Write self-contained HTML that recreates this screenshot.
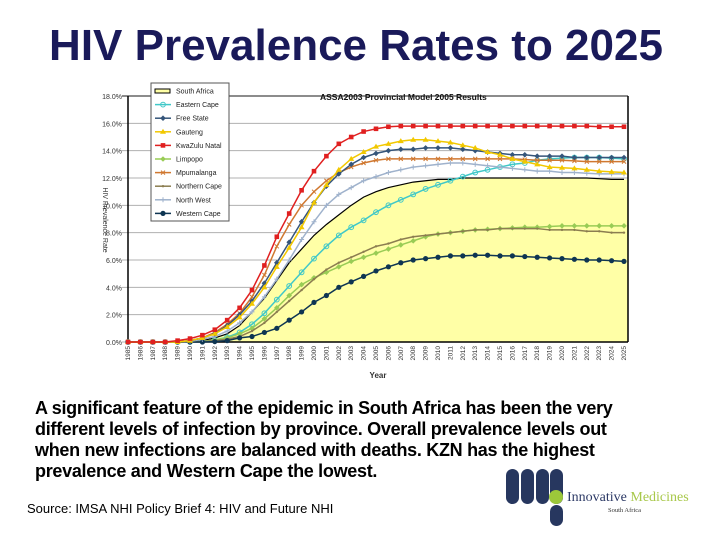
<!DOCTYPE html>
<html><head><meta charset="utf-8"><style>
body{margin:0;width:720px;height:540px;background:#fff;overflow:hidden;position:relative;font-family:"Liberation Sans",sans-serif}
#title{position:absolute;left:0;width:712px;top:21px;text-align:center;font-size:44px;font-weight:bold;color:#1a1a5a}
#desc{position:absolute;left:35px;top:398px;width:610px;font-size:18px;font-weight:bold;line-height:21px;color:#000;letter-spacing:-0.3px}
#src{position:absolute;left:27px;top:501px;font-size:13px;color:#000}
</style></head><body>
<div id="title">HIV Prevalence Rates to 2025</div>
<svg id="chart" width="720" height="540" style="position:absolute;left:0;top:0"></svg>
<div id="desc">A significant feature of the epidemic in South Africa has been the very different levels of infection by province. Overall prevalence levels out when new infections are balanced with deaths. KZN has the highest prevalence and Western Cape the lowest.</div>
<div id="src">Source: IMSA NHI Policy Brief 4: HIV and Future NHI</div>
<svg width="720" height="540" style="position:absolute;left:0;top:0">
<rect x="506" y="469" width="13" height="35" rx="6.5" fill="#27375f"/>
<rect x="521" y="469" width="13" height="35" rx="6.5" fill="#27375f"/>
<rect x="536" y="469" width="13" height="35" rx="6.5" fill="#27375f"/>
<rect x="550" y="469" width="13" height="35" rx="6.5" fill="#27375f"/>
<rect x="550" y="505" width="13" height="21" rx="6.5" fill="#27375f"/>
<circle cx="556" cy="497" r="7" fill="#9cc83a"/>
<text x="567" y="501" font-family="Liberation Serif,serif" font-size="14" fill="#2d3a66">Innovative <tspan fill="#a8c84a">Medicines</tspan></text>
<text x="608" y="512" font-family="Liberation Serif,serif" font-size="6.5" fill="#333">South Africa</text>
</svg>
<script>
const years=[];for(let y=1985;y<=2025;y++)years.push(y);
const yTicks=[0,2,4,6,8,10,12,14,16,18];
const seriesNames=["South Africa","Eastern Cape","Free State","Gauteng","KwaZulu Natal","Limpopo","Mpumalanga","Northern Cape","North West","Western Cape"];
const southAfrica=[0,0,0,0,0,0.03,0.1,0.3,0.6,1.2,2.2,3.2,4.5,5.8,6.8,7.8,8.6,9.3,10.0,10.6,11.0,11.3,11.5,11.7,11.8,11.9,11.9,12.0,12.0,12.0,12.0,12.0,12.0,12.0,12.0,12.0,12.0,12.0,11.95,11.9,11.9];
const easternCape=[0,0,0,0,0,0,0.05,0.15,0.35,0.7,1.3,2.1,3.1,4.1,5.1,6.1,7.0,7.8,8.4,8.9,9.5,10.0,10.4,10.8,11.2,11.5,11.8,12.1,12.4,12.6,12.8,13.0,13.1,13.3,13.4,13.45,13.5,13.5,13.5,13.45,13.4];
const freeState=[0,0,0,0,0,0.1,0.3,0.6,1.2,2.0,3.0,4.3,5.8,7.3,8.8,10.2,11.4,12.3,13.0,13.5,13.8,14.0,14.1,14.1,14.2,14.2,14.2,14.1,14.0,13.9,13.8,13.7,13.7,13.6,13.6,13.6,13.5,13.5,13.5,13.5,13.5];
const gauteng=[0,0,0,0,0,0.1,0.3,0.6,1.1,1.8,2.8,4.0,5.5,6.9,8.4,10.2,11.5,12.6,13.4,13.9,14.3,14.5,14.7,14.8,14.8,14.7,14.6,14.4,14.2,13.9,13.7,13.4,13.2,13.0,12.8,12.75,12.7,12.6,12.5,12.45,12.4];
const kwazuluNatal=[0,0,0,0,0.1,0.25,0.5,0.9,1.6,2.5,3.8,5.6,7.7,9.4,11.1,12.5,13.6,14.5,15.0,15.4,15.6,15.75,15.8,15.8,15.8,15.8,15.8,15.8,15.8,15.8,15.8,15.8,15.8,15.8,15.8,15.8,15.8,15.8,15.75,15.75,15.75];
const limpopo=[0,0,0,0,0,0,0.05,0.15,0.3,0.6,1.0,1.7,2.5,3.4,4.2,4.7,5.1,5.5,5.9,6.2,6.5,6.8,7.1,7.4,7.7,7.9,8.0,8.1,8.2,8.25,8.3,8.35,8.4,8.4,8.45,8.5,8.5,8.5,8.5,8.5,8.5];
const mpumalanga=[0,0,0,0,0,0.1,0.3,0.7,1.3,2.1,3.3,4.9,7.0,8.6,10.0,11.0,11.8,12.4,12.8,13.1,13.3,13.4,13.4,13.4,13.4,13.4,13.4,13.4,13.4,13.4,13.4,13.4,13.35,13.3,13.3,13.3,13.25,13.2,13.2,13.2,13.2];
const northernCape=[0,0,0,0,0,0,0.03,0.1,0.2,0.4,0.8,1.4,2.2,3.0,3.8,4.6,5.3,5.8,6.2,6.6,7.0,7.2,7.5,7.7,7.8,7.9,8.0,8.1,8.2,8.2,8.3,8.3,8.3,8.3,8.2,8.2,8.2,8.1,8.1,8.0,8.0];
const northWest=[0,0,0,0,0,0.05,0.2,0.4,0.8,1.4,2.2,3.3,4.6,6.0,7.5,8.8,10.0,10.8,11.3,11.8,12.1,12.4,12.6,12.8,12.9,13.0,13.1,13.1,13.0,12.9,12.8,12.7,12.6,12.5,12.5,12.4,12.4,12.35,12.3,12.3,12.3];
const westernCape=[0,0,0,0,0,0,0,0.03,0.1,0.3,0.4,0.7,1.0,1.6,2.2,2.9,3.4,4.0,4.4,4.8,5.2,5.5,5.8,6.0,6.1,6.2,6.3,6.3,6.35,6.35,6.3,6.3,6.25,6.2,6.15,6.1,6.05,6.0,6.0,5.95,5.9];

const NS="http://www.w3.org/2000/svg";
const svg=document.getElementById('chart');
const X0=128,X1=624,Y0=342,Y18=96;
const xs=i=>X0+(X1-X0)*i/(years.length-1);
const ys=v=>Y0-(Y0-Y18)*v/18;
function mk(t,a,p){const e=document.createElementNS(NS,t);for(const k in a)e.setAttribute(k,a[k]);(p||svg).appendChild(e);return e;}
let e=mk('rect',{x:128,y:96,width:500,height:246,fill:'#fff'});


yTicks.forEach(t=>{
 let g=mk('line',{x1:122,x2:628,y1:ys(t),y2:ys(t),stroke:t==18?'#666':'#b0b0b0','stroke-width':t==18?1.5:1});
 
 
 let l=mk('text',{x:122,y:ys(t)+3,'font-size':7,'text-anchor':'end',fill:'#333'});l.textContent=t.toFixed(1)+'%';
 
 
});
let d='M'+xs(0)+','+ys(0);southAfrica.forEach((v,i)=>d+=' L'+xs(i)+','+ys(v));d+=' L628,'+ys(southAfrica[southAfrica.length-1])+' L628,'+ys(0)+' Z';
e=mk('path',{d:d,fill:'#ffffa6',stroke:'none'});


e=mk('polyline',{points:southAfrica.map((v,i)=>xs(i)+','+ys(v)).join(' '),fill:'none',stroke:'#000','stroke-width':1.2});


mk('line',{x1:128,x2:128,y1:96,y2:342,stroke:'#000','stroke-width':1.5});
mk('line',{x1:128,x2:628,y1:342,y2:342,stroke:'#000','stroke-width':1.5});
mk('line',{x1:628,x2:628,y1:96,y2:342,stroke:'#000','stroke-width':1.5});
const defs=[
 [easternCape,'#40c8c8','circle-open','eastern-cape'],
 [limpopo,'#99cc55','diamond','limpopo'],
 [northernCape,'#8b7d50','dot','northern-cape'],
 [westernCape,'#0e3552','circle','western-cape'],
 [northWest,'#9fb2cc','plus','north-west'],
 [mpumalanga,'#d07830','x','mpumalanga'],
 [freeState,'#35557a','diamond','free-state'],
 [gauteng,'#f2c800','triangle','gauteng'],
 [kwazuluNatal,'#e02020','square','kwazulu-natal']];
function marker(type,x,y,c,p){
 if(type=='circle')return mk('circle',{cx:x,cy:y,r:2.6,fill:c},p);
 if(type=='circle-open')return mk('circle',{cx:x,cy:y,r:2.4,fill:'none',stroke:c,'stroke-width':1},p);
 if(type=='square')return mk('rect',{x:x-2.3,y:y-2.3,width:4.6,height:4.6,fill:c},p);
 if(type=='diamond')return mk('path',{d:`M${x},${y-2.8}L${x+2.8},${y}L${x},${y+2.8}L${x-2.8},${y}Z`,fill:c},p);
 if(type=='triangle')return mk('path',{d:`M${x},${y-3}L${x+3},${y+2}L${x-3},${y+2}Z`,fill:c},p);
 if(type=='plus')return mk('path',{d:`M${x-2.5},${y}H${x+2.5}M${x},${y-2.5}V${y+2.5}`,stroke:c,'stroke-width':1},p);
 if(type=='x')return mk('path',{d:`M${x-2},${y-2}L${x+2},${y+2}M${x+2},${y-2}L${x-2},${y+2}`,stroke:c,'stroke-width':1},p);
 return mk('circle',{cx:x,cy:y,r:1.2,fill:c},p);
}
defs.forEach(([data,c,m,n])=>{
 const g=mk('g',{});
 
 
 mk('polyline',{points:data.map((v,i)=>xs(i)+','+ys(v)).join(' '),fill:'none',stroke:c,'stroke-width':1.5},g);
 data.forEach((v,i)=>{const mm=marker(m,xs(i),ys(v),c,g);
  
  });
});
years.forEach((yr,i)=>{
 const t=mk('text',{x:0,y:0,'font-size':6.5,fill:'#333',transform:`translate(${xs(i)+2},346) rotate(-90)`,'text-anchor':'end'});
 t.textContent=yr;
 
 
});
let t=mk('text',{x:378,y:378,'font-size':8,'font-weight':'bold','text-anchor':'middle',fill:'#333'});t.textContent='Year';


t=mk('text',{x:0,y:0,'font-size':7,fill:'#333','text-anchor':'middle',transform:'translate(103,220) rotate(90)'});t.textContent='HIV Prevalence Rate';


t=mk('text',{x:320,y:100,'font-size':8.5,'font-weight':'bold',fill:'#111'});t.textContent='ASSA2003 Provincial Model 2005 Results';


const lg=mk('g',{});


mk('rect',{x:151,y:83,width:78,height:138,fill:'#fff',stroke:'#555','stroke-width':1},lg);
const legendOrder=[[null,'#000','area'],[easternCape,'#40c8c8','circle-open'],[freeState,'#35557a','diamond'],[gauteng,'#f2c800','triangle'],[kwazuluNatal,'#e02020','square'],[limpopo,'#99cc55','diamond'],[mpumalanga,'#d07830','x'],[northernCape,'#8b7d50','dot'],[northWest,'#9fb2cc','plus'],[westernCape,'#0e3552','circle']];
legendOrder.forEach(([_,c,m],i)=>{
 const y=91+i*13.6;
 const ent=mk('g',{},lg);
 
 
 if(m=='area')mk('rect',{x:155,y:y-2,width:15,height:4,fill:'#ffffa6',stroke:'#000','stroke-width':1},ent);
 else{mk('line',{x1:155,x2:171,y1:y,y2:y,stroke:c,'stroke-width':1.5},ent);marker(m,163,y,c,ent);}
 const tx=mk('text',{x:176,y:y+2.5,'font-size':7,fill:'#222'},ent);tx.textContent=seriesNames[i];
});
</script>
</body></html>
